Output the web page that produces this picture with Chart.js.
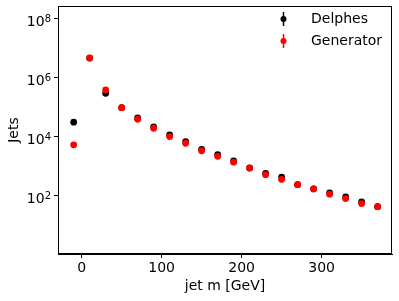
<!DOCTYPE html>
<html>
  <head>
    <script src="https://cdn.jsdelivr.net/npm/chart.js"></script>
    <title>Jets</title>
    <style>
      body { margin: 0; background: white; }
      #wrap { width: 399px; height: 301px; }
    </style>
  </head>
  <body>
    <div id="wrap"><canvas id="jetChart"></canvas></div>
    <script>
      // bin centres of jet mass [GeV]
      const binCentres = [-10, 10, 30, 50, 70, 90, 110, 130, 150, 170, 190, 210, 230, 250, 270, 290, 310, 330, 350, 370];
      const delphes = [31600, 4.7e6, 3.0e5, 9.8e4, 4.4e4, 2.2e4, 1.17e4, 6900, 3800, 2500, 1550, 890, 580, 435, 240, 173, 126, 92, 62, 43];
      const generator = [5400, 4.77e6, 3.9e5, 9.8e4, 4.0e4, 1.97e4, 1.03e4, 6100, 3400, 2200, 1390, 880, 525, 365, 240, 172, 114, 81, 55, 43];
      const xTicks = [0, 100, 200, 300];
      const yTicks = [1e2, 1e4, 1e6, 1e8];

      const font = { family: 'DejaVu Sans', size: 14 };

      // full box round the plot, 10^n labels with real superscripts, legend with error-bar markers
      const framePlugin = {
        id: 'frame',
        afterDraw(chart) {
          const ctx = chart.ctx;
          const a = chart.chartArea;
          ctx.save();
          ctx.strokeStyle = '#000';
          ctx.lineWidth = 1;
          ctx.strokeRect(a.left + 0.5, a.top + 0.5, a.right - a.left - 1, a.bottom - a.top - 1);

          const ys = chart.scales.y;
          ctx.fillStyle = '#000';
          ctx.textBaseline = 'alphabetic';
          ctx.textAlign = 'right';
          yTicks.forEach(v => {
            const py = ys.getPixelForValue(v);
            const exp = String(Math.round(Math.log10(v)));
            ctx.font = '10px "DejaVu Sans"';
            const w = ctx.measureText(exp).width;
            ctx.fillText(exp, 51, py + 3);
            ctx.font = '14px "DejaVu Sans"';
            ctx.fillText('10', 51 - w, py + 7);
          });

          const items = [['Delphes', '#000', 19], ['Generator', '#ff0000', 41]];
          ctx.font = '14px "DejaVu Sans"';
          ctx.textAlign = 'left';
          ctx.textBaseline = 'middle';
          items.forEach(([name, col, y]) => {
            ctx.strokeStyle = col;
            ctx.fillStyle = col;
            ctx.lineWidth = 1.5;
            ctx.beginPath();
            ctx.moveTo(283.5, y - 7);
            ctx.lineTo(283.5, y + 7);
            ctx.stroke();
            ctx.beginPath();
            ctx.arc(283.5, y, 3, 0, Math.PI * 2);
            ctx.fill();
            ctx.fillStyle = '#000';
            ctx.fillText(name, 311, y);
          });
          ctx.restore();
        }
      };

      new Chart(document.getElementById('jetChart'), {
        type: 'scatter',
        data: {
          datasets: [
            {
              label: 'Delphes',
              data: binCentres.map((x, i) => ({ x: x, y: delphes[i] })),
              backgroundColor: '#000',
              borderColor: '#000',
              pointRadius: 3.4,
              borderWidth: 0,
              order: 2
            },
            {
              label: 'Generator',
              data: binCentres.map((x, i) => ({ x: x, y: generator[i] })),
              backgroundColor: '#ff0000',
              borderColor: '#ff0000',
              pointRadius: 3.4,
              borderWidth: 0,
              order: 1
            }
          ]
        },
        options: {
          responsive: true,
          maintainAspectRatio: false,
          animation: false,
          layout: { padding: { top: 6, right: 7, left: 0, bottom: 0 } },
          plugins: { legend: { display: false }, tooltip: { enabled: false } },
          scales: {
            x: {
              type: 'linear',
              min: -29.6,
              max: 388,
              afterBuildTicks: s => { s.ticks = xTicks.map(v => ({ value: v })); },
              afterFit: s => { s.height = 47; s.paddingLeft = 0; s.paddingRight = 0; },
              grid: { drawOnChartArea: false, tickLength: 4, tickColor: '#000', color: '#000' },
              border: { color: '#000' },
              ticks: { color: '#000', font: font, padding: 2, maxRotation: 0 },
              title: { display: true, text: 'jet m [GeV]', color: '#000', font: font, padding: { top: 0, bottom: 6 } }
            },
            y: {
              type: 'logarithmic',
              min: 1.07,
              max: 2.75e8,
              afterBuildTicks: s => { s.ticks = yTicks.map(v => ({ value: v })); },
              afterFit: s => { s.width = 58; s.paddingTop = 0; s.paddingBottom = 0; },
              grid: { drawOnChartArea: false, tickLength: 4, tickColor: '#000', color: '#000' },
              border: { color: '#000' },
              ticks: { color: '#000', font: { size: 1 }, padding: 0, callback: () => '' },
              title: { display: true, text: 'Jets', color: '#000', font: font, padding: { top: 6, bottom: 0 } }
            }
          }
        },
        plugins: [framePlugin]
      });
    </script>
  </body>
</html>
